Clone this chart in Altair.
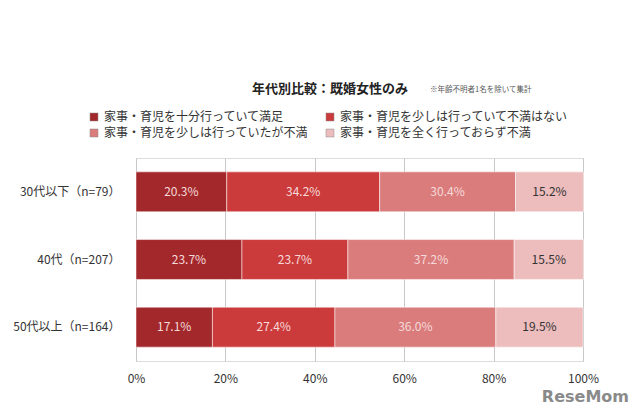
import altair as alt
import pandas as pd

groups = ["30代以下（n=79）", "40代（n=207）", "50代以上（n=164）"]
series = ["家事・育児を十分行っていて満足", "家事・育児を少しは行っていて不満はない",
          "家事・育児を少しは行っていたが不満", "家事・育児を全く行っておらず不満"]
values = [
    [20.3, 34.2, 30.4, 15.2],
    [23.7, 23.7, 37.2, 15.5],
    [17.1, 27.4, 36.0, 19.5],
]
colors = ["#A3282B", "#CC3B3B", "#DA7C7C", "#EDBDBD"]
label_colors = ["#F6DADA", "#F6DADA", "#F6DADA", "#333333"]

rows = []
for g, vals in zip(groups, values):
    start = 0.0
    for i, (s, v) in enumerate(zip(series, vals)):
        rows.append({"group": g, "series": s, "order": i, "value": v,
                     "start": start, "end": start + v, "mid": start + v / 2,
                     "label": f"{v:.1f}%", "lc": label_colors[i]})
        start += v
df = pd.DataFrame(rows)

FONT = "Noto Sans CJK JP"

base = alt.Chart(df)
y = alt.Y("group:N", sort=groups, title=None,
          scale=alt.Scale(paddingInner=0.41, paddingOuter=0.205),
          axis=alt.Axis(labelPadding=16, ticks=False, domain=False, labelFontSize=12,
                        labelColor="#333333", labelFont=FONT))

bars = base.mark_bar(stroke="#FFFFFF", strokeWidth=0.5).encode(
    x=alt.X("start:Q", scale=alt.Scale(domain=[0, 100]), title=None,
            axis=alt.Axis(values=[0, 20, 40, 60, 80, 100], labelExpr="datum.value + '%'",
                          grid=True, gridColor="#C8C8C8", domain=False, ticks=False,
                          labelFlush=False,
                          labelPadding=12, labelFontSize=12, labelColor="#333333",
                          labelFont=FONT)),
    x2="end:Q",
    y=y,
    color=alt.Color("series:N", sort=series,
                    scale=alt.Scale(domain=series, range=colors),
                    legend=alt.Legend(title=None, orient="none", legendX=-48, legendY=-47,
                                      direction="horizontal",
                                      columns=2, columnPadding=15, rowPadding=4,
                                      symbolType="square", symbolSize=64,
                                      symbolStrokeWidth=0.5, symbolStrokeColor="#888888",
                                      labelFontSize=12, labelColor="#333333", labelFont=FONT,
                                      labelLimit=300, gridAlign="each")),
    order=alt.Order("order:Q"),
)

texts = base.mark_text(fontSize=12, font=FONT).encode(
    x="mid:Q",
    y=alt.Y("group:N", sort=groups),
    text="label:N",
    color=alt.Color("lc:N", scale=None),
)

title = alt.Chart(pd.DataFrame({"t": ["年代別比較：既婚女性のみ"]})).mark_text(
    fontSize=13, fontWeight="bold", align="center", baseline="middle", font=FONT,
    color="#222222"
).encode(x=alt.value(194), y=alt.value(-69), text="t:N")

note = alt.Chart(pd.DataFrame({"t": ["※年齢不明者1名を除いて集計"]})).mark_text(
    fontSize=7.5, align="left", baseline="middle", font=FONT, color="#555555"
).encode(x=alt.value(294), y=alt.value(-68), text="t:N")

logo = alt.Chart(pd.DataFrame({"t": ["ReseMom"]})).mark_text(
    fontSize=16, fontWeight="bold", align="right", baseline="middle", font="DejaVu Sans",
    color="#8A8A8A"
).encode(x=alt.value(493), y=alt.value(239), text="t:N")

chart = alt.layer(bars, texts, title, note, logo).properties(
    width=447, height=203,
    autosize=alt.AutoSizeParams(type="none"),
    padding={"left": 128, "top": 150, "right": 49, "bottom": 50},
).configure_view(stroke=None).configure(font=FONT)

chart.save("out.html", embed_options={"renderer": "svg", "actions": False})
